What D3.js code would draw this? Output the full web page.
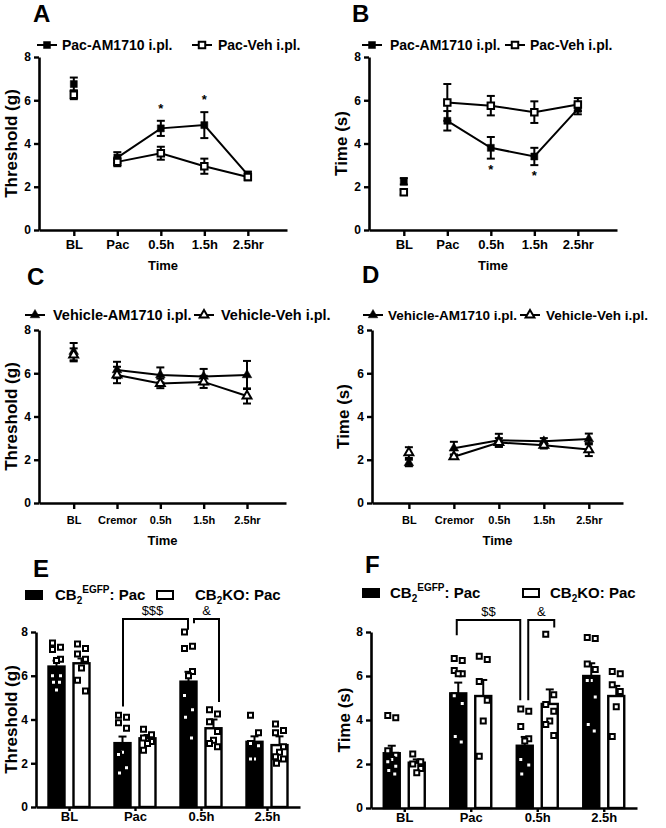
<!DOCTYPE html>
<html><head><meta charset="utf-8">
<script src="https://cdn.jsdelivr.net/npm/d3@7"></script>
<style>
body{margin:0;background:#fff;}
svg{display:block;}
</style></head><body>
<svg id="c" width="666" height="828"></svg>
<script>
// ---------------- DATA ----------------
const timeCatsAB = ["BL", "Pac", "0.5h", "1.5h", "2.5hr"];
const timeCatsCD = ["BL", "Cremor", "0.5h", "1.5h", "2.5hr"];
const yTickVals = [0, 2, 4, 6, 8];

// Panel A: Threshold (g)
const aAM = [6.75, 3.35, 4.7, 4.85, 2.55];
const aAMErr = [0.3, 0.25, 0.35, 0.6, 0.15];
const aVeh = [6.25, 3.15, 3.55, 2.95, 2.45];
const aVehErr = [0.2, 0.2, 0.3, 0.35, 0.15];
const aStars = ["", "", "*", "*", ""];

// Panel B: Time (s)
const bAM = [2.25, 5.05, 3.8, 3.4, 5.6];
const bAMErr = [0.15, 0.45, 0.5, 0.4, 0.25];
const bVeh = [1.75, 5.9, 5.75, 5.45, 5.8];
const bVehErr = [0.12, 0.85, 0.45, 0.5, 0.3];
const bStars = ["", "", "*", "*", ""];

// Panel C: Threshold (g)
const cAM = [7.0, 6.15, 5.92, 5.85, 5.92];
const cAMErr = [0.4, 0.38, 0.35, 0.35, 0.65];
const cVeh = [6.85, 5.92, 5.53, 5.6, 4.95];
const cVehErr = [0.3, 0.38, 0.22, 0.28, 0.35];

// Panel D: Time (s)
const dAM = [1.85, 2.53, 2.9, 2.85, 2.96];
const dAMErr = [0.15, 0.3, 0.3, 0.15, 0.25];
const dVeh = [2.33, 2.14, 2.8, 2.67, 2.47];
const dVehErr = [0.25, 0.1, 0.2, 0.15, 0.3];

// Panels E / F: bars
const barCats = ["BL", "Pac", "0.5h", "2.5h"];

const eWT = [6.42, 2.92, 5.73, 2.98];
const eWTErr = [0.27, 0.3, 0.45, 0.25];
const eKO = [6.57, 3.14, 3.6, 2.83];
const eKOErr = [0.22, 0.15, 0.4, 0.4];
const eWTPts = [
  [7.5, 7.3, 7.2, 6.75, 6.7, 6.0, 6.0, 5.7, 5.7, 5.35],
  [4.2, 4.1, 3.85, 3.6, 2.5, 2.4, 1.8, 1.55],
  [8.0, 7.35, 7.25, 6.2, 6.0, 5.1, 4.45, 4.1, 3.15],
  [4.2, 3.4, 2.9, 2.8, 2.2, 2.2]
];
const eKOPts = [
  [7.45, 7.25, 7.0, 6.75, 6.35, 5.8, 5.3],
  [3.55, 3.3, 3.15, 3.0, 2.9, 2.6],
  [4.45, 4.25, 3.9, 3.45, 3.05, 2.9, 2.75],
  [3.8, 3.5, 3.4, 2.75, 2.5, 2.3, 2.2, 2.0]
];

const fWT = [2.49, 5.21, 2.83, 6.0];
const fWTErr = [0.34, 0.49, 0.4, 0.58];
const fKO = [2.06, 5.09, 4.73, 5.09];
const fKOErr = [0.15, 0.73, 0.66, 0.46];
const fWTPts = [
  [4.2, 4.1, 2.6, 2.4, 2.2, 2.1, 1.9, 1.7, 1.55],
  [6.8, 6.7, 6.25, 6.1, 6.1, 5.1, 4.75, 3.25, 3.0],
  [4.5, 4.4, 3.7, 3.15, 3.05, 2.2, 1.95, 1.55],
  [7.75, 7.7, 6.55, 6.3, 5.8, 5.8, 5.05, 3.8, 3.5]
];
const fKOPts = [
  [2.45, 2.1, 2.0, 1.8, 1.6],
  [6.9, 6.75, 5.75, 4.9, 3.95, 2.35],
  [7.9, 5.15, 4.7, 4.4, 3.95, 3.8, 3.3],
  [6.2, 6.1, 5.6, 5.3, 4.6, 3.25]
];

// ---------------- DRAW ----------------
const FONT = "'Liberation Sans', Arial, Helvetica, sans-serif";
const svg = d3.select("#c");

function styleAxis(g, fs) {
  g.attr("font-family", FONT).attr("font-size", fs).attr("font-weight", "bold");
  g.selectAll(".domain").attr("stroke", "#000").attr("stroke-width", 2.6);
  g.selectAll(".tick line").attr("stroke", "#000").attr("stroke-width", 2.4);
  g.selectAll(".tick text").attr("fill", "#000");
}

function txt(g, x, y, s, fs, opts = {}) {
  return g.append("text").attr("x", x).attr("y", y).text(s)
    .attr("font-family", FONT).attr("font-size", fs)
    .attr("font-weight", opts.weight || "bold")
    .attr("text-anchor", opts.anchor || "start").attr("fill", "#000");
}

function yTitle(g, x, y, s) {
  g.append("text").attr("transform", `translate(${x},${y}) rotate(-90)`)
    .attr("text-anchor", "middle").attr("dy", "0.35em")
    .attr("font-family", FONT).attr("font-size", 17).attr("font-weight", "bold").text(s);
}

function marker(shape, filled, size) {
  return { sym: d3.symbol().type(shape === "square" ? d3.symbolSquare : d3.symbolTriangle).size(size), filled };
}

function linePanel(o) {
  const g = svg.append("g");
  const x = d3.scaleLinear().domain(o.xDom).range([o.x0, o.x1]);
  const y = d3.scaleLinear().domain([0, 8]).range([o.y0, o.y8]);

  const ax = g.append("g").attr("transform", `translate(0,${o.y0})`)
    .call(d3.axisBottom(x).tickValues(d3.range(o.cats.length)).tickFormat(i => o.cats[i])
      .tickSize(6).tickSizeOuter(0).tickPadding(o.xPad));
  styleAxis(ax, o.xFs);
  const ay = g.append("g").attr("transform", `translate(${o.x0},0)`)
    .call(d3.axisLeft(y).tickValues(yTickVals).tickSize(5).tickSizeOuter(0).tickPadding(3));
  styleAxis(ay, 12);

  // lines (BL not connected)
  o.series.forEach(s => {
    const pts = s.vals.map((v, i) => ({ i, v }));
    g.append("path").datum(pts.slice(1))
      .attr("d", d3.line().x(d => x(d.i)).y(d => y(d.v)))
      .attr("fill", "none").attr("stroke", "#000").attr("stroke-width", 2);
  });
  // error bars + markers
  o.series.forEach(s => {
    const pts = s.vals.map((v, i) => ({ i, v, e: s.errs[i] }));
    const eb = g.append("g").attr("stroke", "#000").attr("stroke-width", 2);
    pts.forEach(d => {
      eb.append("line").attr("x1", x(d.i)).attr("x2", x(d.i)).attr("y1", y(d.v - d.e)).attr("y2", y(d.v + d.e));
      [d.v - d.e, d.v + d.e].forEach(t => eb.append("line").attr("x1", x(d.i) - 4).attr("x2", x(d.i) + 4).attr("y1", y(t)).attr("y2", y(t)));
    });
    g.selectAll(null).data(pts).join("path")
      .attr("d", s.mk.sym)
      .attr("transform", d => `translate(${x(d.i)},${y(d.v)})`)
      .attr("fill", s.mk.filled ? "#000" : "#fff").attr("stroke", "#000").attr("stroke-width", s.mk.filled ? 0.5 : 2);
  });
  // stars
  if (o.stars) {
    const s0 = o.series[0];
    o.stars.forEach((st, i) => {
      if (!st) return;
      const yy = o.starAbove ? y(s0.vals[i] + s0.errs[i]) - 8 : y(s0.vals[i] - s0.errs[i]) + 15;
      txt(g, x(i), yy, st, 13, { anchor: "middle" });
    });
  }
  // legend
  o.series.forEach((s, k) => {
    const L = o.legend[k];
    g.append("line").attr("x1", L.lx).attr("x2", L.lx + 20).attr("y1", o.legY).attr("y2", o.legY)
      .attr("stroke", "#000").attr("stroke-width", 2);
    g.append("path").attr("d", s.mk.sym).attr("transform", `translate(${L.lx + 10},${o.legY})`)
      .attr("fill", s.mk.filled ? "#000" : "#fff").attr("stroke", "#000").attr("stroke-width", s.mk.filled ? 0.5 : 2);
    txt(g, L.tx, o.legY + 5, s.name, o.legFs);
  });
  // titles
  yTitle(g, o.yTitleX, (o.y0 + o.y8) / 2, o.yTitle);
  txt(g, (o.x0 + o.x1) / 2, o.timeY, "Time", 13, { anchor: "middle" });
  txt(g, o.letter[1], o.letter[2], o.letter[0], 24);
}

function barPanel(o) {
  const g = svg.append("g");
  const x = d3.scalePoint().domain(barCats).range([o.x0, o.x1]).padding(0.5);
  const y = d3.scaleLinear().domain([0, 8]).range([o.y0, o.y8]);
  const bw = 16, off = 12.5;
  const jit = [-4, 4, -4, 4, 0, -4, 4, -3, 3, 0];

  const groups = [
    { vals: o.wt, errs: o.wtErr, pts: o.wtPts, dx: -off, fill: "#000" },
    { vals: o.ko, errs: o.koErr, pts: o.koPts, dx: off, fill: "#fff" }
  ];
  groups.forEach(s => {
    g.selectAll(null).data(s.vals).join("rect")
      .attr("x", (d, i) => x(barCats[i]) + s.dx - bw / 2)
      .attr("y", d => y(d)).attr("width", bw).attr("height", d => o.y0 - y(d))
      .attr("fill", s.fill).attr("stroke", "#000").attr("stroke-width", 2.4);
    const eb = g.append("g").attr("stroke", "#000").attr("stroke-width", 2);
    s.vals.forEach((v, i) => {
      const cx = x(barCats[i]) + s.dx;
      eb.append("line").attr("x1", cx).attr("x2", cx).attr("y1", y(v)).attr("y2", y(v + s.errs[i]));
      eb.append("line").attr("x1", cx - 4).attr("x2", cx + 4).attr("y1", y(v + s.errs[i])).attr("y2", y(v + s.errs[i]));
    });
  });
  groups.forEach(s => {
    s.pts.forEach((arr, i) => {
      g.selectAll(null).data(arr).join("path")
        .attr("d", d3.symbol().type(d3.symbolSquare).size(25))
        .attr("transform", (d, j) => `translate(${x(barCats[i]) + s.dx + jit[j]},${y(d)})`)
        .attr("fill", "#fff").attr("stroke", "#000").attr("stroke-width", 2);
    });
  });

  const ax = g.append("g").attr("transform", `translate(0,${o.y0})`)
    .call(d3.axisBottom(x).tickSize(4).tickSizeOuter(0).tickPadding(1));
  styleAxis(ax, 13);
  const ay = g.append("g").attr("transform", `translate(${o.x0},0)`)
    .call(d3.axisLeft(y).tickValues(yTickVals).tickSize(5).tickSizeOuter(0).tickPadding(3));
  styleAxis(ay, 12);

  // significance brackets
  const br = g.append("g").attr("fill", "none").attr("stroke", "#000").attr("stroke-width", 2);
  o.brackets.forEach(b => {
    const xa = x(b.a) + b.adx, xb = x(b.b) + b.bdx;
    br.append("path").attr("d", `M${xa},${y(b.ya)}V${y(b.top)}H${xb}V${y(b.yb)}`);
    txt(g, (xa + xb) / 2 + (b.tdx || 0), y(b.top) - 4, b.label, 13, { anchor: "middle", weight: "normal" });
  });

  // legend
  const L = o.legend;
  g.append("rect").attr("x", L.r1).attr("y", L.y - 5).attr("width", 18).attr("height", 10).attr("fill", "#000");
  g.append("rect").attr("x", L.r2 + 1).attr("y", L.y - 4).attr("width", 16).attr("height", 8)
    .attr("fill", "#fff").attr("stroke", "#000").attr("stroke-width", 2);
  const t1 = txt(g, L.t1, L.y + 5, "", 15);
  t1.append("tspan").text("CB");
  t1.append("tspan").attr("dy", 4).attr("font-size", 10).text("2");
  t1.append("tspan").attr("dy", -11).attr("font-size", 10).text("EGFP");
  t1.append("tspan").attr("dy", 7).text(": Pac");
  const t2 = txt(g, L.t2, L.y + 5, "", 15);
  t2.append("tspan").text("CB");
  t2.append("tspan").attr("dy", 4).attr("font-size", 10).text("2");
  t2.append("tspan").attr("dy", -4).text("KO: Pac");

  yTitle(g, o.yTitleX, (o.y0 + o.y8) / 2, o.yTitle);
  txt(g, o.letter[1], o.letter[2], o.letter[0], 24);
}

const sqF = marker("square", true, 49), sqO = marker("square", false, 42);
const trF = marker("triangle", true, 40), trO = marker("triangle", false, 34);

linePanel({
  x0: 39, x1: 287, xDom: [-0.8, 4.9], y0: 230, y8: 57, cats: timeCatsAB, xFs: 13, xPad: 4,
  series: [{ name: "Pac-AM1710 i.pl.", vals: aAM, errs: aAMErr, mk: sqF },
           { name: "Pac-Veh i.pl.", vals: aVeh, errs: aVehErr, mk: sqO }],
  stars: aStars, starAbove: true, legFs: 14,
  legY: 45, legend: [{ lx: 37, tx: 62 }, { lx: 192, tx: 218 }],
  yTitle: "Threshold (g)", yTitleX: 11, timeY: 270, letter: ["A", 33, 22]
});
linePanel({
  x0: 369, x1: 617, xDom: [-0.8, 4.9], y0: 230, y8: 57, cats: timeCatsAB, xFs: 13, xPad: 4,
  series: [{ name: "Pac-AM1710 i.pl.", vals: bAM, errs: bAMErr, mk: sqF },
           { name: "Pac-Veh i.pl.", vals: bVeh, errs: bVehErr, mk: sqO }],
  stars: bStars, starAbove: false, legFs: 14,
  legY: 45, legend: [{ lx: 362, tx: 390 }, { lx: 505, tx: 530 }],
  yTitle: "Time (s)", yTitleX: 341, timeY: 270, letter: ["B", 352, 22]
});
linePanel({
  x0: 39, x1: 286, xDom: [-0.8, 4.9], y0: 503, y8: 330, cats: timeCatsCD, xFs: 11, xPad: 7,
  series: [{ name: "Vehicle-AM1710 i.pl.", vals: cAM, errs: cAMErr, mk: trF },
           { name: "Vehicle-Veh i.pl.", vals: cVeh, errs: cVehErr, mk: trO }],
  legFs: 14.5,
  legY: 315, legend: [{ lx: 25, tx: 53 }, { lx: 194, tx: 221 }],
  yTitle: "Threshold (g)", yTitleX: 11, timeY: 545, letter: ["C", 27, 285]
});
linePanel({
  x0: 372, x1: 623, xDom: [-0.82, 4.76], y0: 503, y8: 330, cats: timeCatsCD, xFs: 11, xPad: 7,
  series: [{ name: "Vehicle-AM1710 i.pl.", vals: dAM, errs: dAMErr, mk: trF },
           { name: "Vehicle-Veh i.pl.", vals: dVeh, errs: dVehErr, mk: trO }],
  legFs: 13.5,
  legY: 315, legend: [{ lx: 363, tx: 388 }, { lx: 520, tx: 546 }],
  yTitle: "Time (s)", yTitleX: 343, timeY: 545, letter: ["D", 362, 283]
});
barPanel({
  x0: 36, x1: 300, y0: 807, y8: 632,
  wt: eWT, wtErr: eWTErr, wtPts: eWTPts, ko: eKO, koErr: eKOErr, koPts: eKOPts,
  brackets: [
    { a: "Pac", adx: -12, ya: 4.6, b: "0.5h", bdx: -13, yb: 8.1, top: 8.6, label: "$$$", tdx: -3 },
    { a: "0.5h", adx: -7, ya: 8.4, b: "0.5h", bdx: 18, yb: 4.8, top: 8.6, label: "&" }
  ],
  legend: { y: 595, r1: 25, t1: 55, r2: 156, t2: 195 },
  yTitle: "Threshold (g)", yTitleX: 11, letter: ["E", 33, 577]
});
barPanel({
  x0: 371, x1: 637, y0: 808, y8: 632,
  wt: fWT, wtErr: fWTErr, wtPts: fWTPts, ko: fKO, koErr: fKOErr, koPts: fKOPts,
  brackets: [
    { a: "Pac", adx: -14, ya: 7.85, b: "0.5h", bdx: -17, yb: 4.9, top: 8.55, label: "$$" },
    { a: "0.5h", adx: -9, ya: 4.9, b: "0.5h", bdx: 17, yb: 8.2, top: 8.55, label: "&" }
  ],
  legend: { y: 593, r1: 362, t1: 390, r2: 522, t2: 550 },
  yTitle: "Time (s)", yTitleX: 344, letter: ["F", 365, 573]
});
</script>
</body></html>
